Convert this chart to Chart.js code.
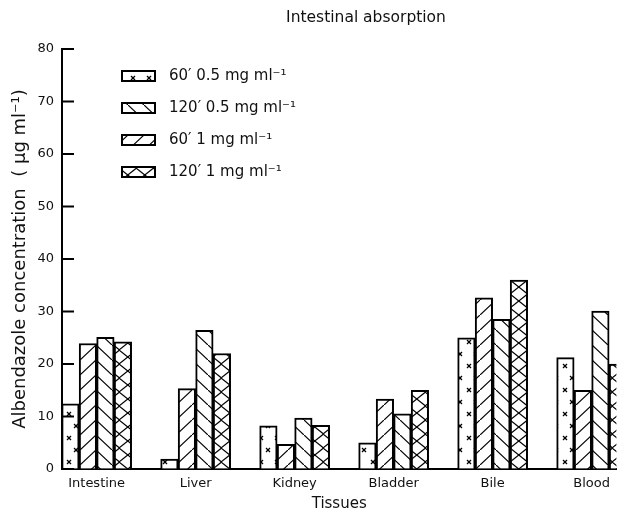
<!DOCTYPE html>
<html>
<head>
<meta charset="utf-8">
<script src="https://cdn.jsdelivr.net/npm/chart.js@4.4.1/dist/chart.umd.min.js"></script>
<style>
  html, body { margin: 0; padding: 0; background: #fff; overflow: hidden; }
</style>
</head>
<body>
<canvas id="chart" width="617" height="509"></canvas>
<script>
// values (µg ml-1)
const tissues = ['Intestine', 'Liver', 'Kidney', 'Bladder', 'Bile', 'Blood'];
const conc60Low = [12.4, 1.9, 8.2, 5.0, 25.0, 21.2];    // 60' 0.5 mg/ml
const conc60High = [23.9, 15.3, 4.7, 13.3, 32.6, 15.0];  // 60' 1 mg/ml
const conc120Low = [25.1, 26.4, 9.7, 10.5, 28.5, 30.1];  // 120' 0.5 mg/ml
const conc120High = [24.2, 22.0, 8.3, 15.0, 36.0, 20.0]; // 120' 1 mg/ml

const chartTitle = 'Intestinal absorption';
const FONT = '"DejaVu Sans", sans-serif';
const INK = '#111';

function hatch(kind) {
    const c = document.createElement('canvas');
    const g = c.getContext('2d');
    let W = 16, H = 15;
    if (kind === 'dots') { W = 16; H = 24; }
    if (kind === 'cross') { W = 17.5; H = 14; }
    c.width = W; c.height = H;
    g.fillStyle = '#fff';
    g.fillRect(0, 0, W, H);
    g.strokeStyle = '#000';
    g.lineWidth = 1.2;
    const seg = (x1, y1, x2, y2) => { g.beginPath(); g.moveTo(x1, y1); g.lineTo(x2, y2); g.stroke(); };
    if (kind === 'dots') {
        [[5, 6], [12, 18]].forEach(([x, y]) => {
            seg(x - 2, y - 2, x + 2, y + 2);
            seg(x - 2, y + 2, x + 2, y - 2);
        });
    }
    if (kind === 'fwd' || kind === 'cross') {
        seg(0, H, W, 0);
        seg(-W, 2 * H, 0, H);
        seg(W, 0, 2 * W, -H);
    }
    if (kind === 'back' || kind === 'cross') {
        seg(0, 0, W, H);
        seg(-W, -H, 0, 0);
        seg(W, H, 2 * W, 2 * H);
    }
    return g.createPattern(c, 'repeat');
}

const ctx = document.getElementById('chart').getContext('2d');

function series(label, values, kind) {
    return {
        label,
        data: values.map((v, i) => ({ x: i, y: v })),
        backgroundColor: hatch(kind),
        borderColor: '#000',
        borderWidth: 2,
        barThickness: 17.5
    };
}

// bars run dots, /, \, X inside each group; legend lists dots, \, /, X
const datasets = [
    series('60\u2032 0.5 mg ml\u207b\u00b9', conc60Low, 'dots'),
    series('60\u2032 1 mg ml\u207b\u00b9', conc60High, 'fwd'),
    series('120\u2032 0.5 mg ml\u207b\u00b9', conc120Low, 'back'),
    series('120\u2032 1 mg ml\u207b\u00b9', conc120High, 'cross')
];
const legendOrder = [0, 2, 1, 3];

const figureDecor = {
    id: 'figureDecor',
    afterDraw(chart) {
        const { ctx, chartArea } = chart;
        const y = chart.scales.y;
        ctx.save();
        // ticks point into the plot
        ctx.strokeStyle = '#000';
        ctx.lineWidth = 2;
        y.ticks.forEach((t, i) => {
            const py = y.getPixelForTick(i);
            ctx.beginPath();
            ctx.moveTo(chartArea.left, py);
            ctx.lineTo(chartArea.left + 12, py);
            ctx.stroke();
        });
        // title
        ctx.fillStyle = INK;
        ctx.font = '15.5px ' + FONT;
        ctx.textAlign = 'center';
        ctx.textBaseline = 'middle';
        ctx.fillText(chartTitle, chartArea.left + 304, 18);
        // legend inside the plot
        ctx.font = '15px ' + FONT;
        ctx.textAlign = 'left';
        legendOrder.forEach((di, row) => {
            const ds = chart.data.datasets[di];
            const bx = chartArea.left + 60;
            const by = chartArea.top + 22 + row * 32;
            ctx.fillStyle = ds.backgroundColor;
            ctx.fillRect(bx, by, 33, 10);
            ctx.lineWidth = 2;
            ctx.strokeRect(bx, by, 33, 10);
            ctx.fillStyle = INK;
            ctx.fillText(ds.label, bx + 47, by + 5);
        });
        ctx.restore();
    }
};

new Chart(ctx, {
    type: 'bar',
    data: { datasets },
    plugins: [figureDecor],
    options: {
        responsive: false,
        animation: false,
        layout: { padding: { top: 49, right: 0, bottom: 0, left: 0 } },
        plugins: {
            legend: { display: false },
            title: { display: false },
            tooltip: { enabled: false }
        },
        scales: {
            x: {
                type: 'linear',
                offset: false,
                min: -0.35,
                max: 5.25,
                grid: { offset: false, drawOnChartArea: false, drawTicks: false },
                border: { color: '#000', width: 2 },
                ticks: {
                    stepSize: 1,
                    autoSkip: false,
                    includeBounds: false,
                    maxRotation: 0,
                    padding: 7,
                    color: INK,
                    font: { family: FONT, size: 13 },
                    callback: v => tissues[v] ?? ''
                },
                title: {
                    display: true,
                    text: 'Tissues',
                    color: INK,
                    font: { family: FONT, size: 15, lineHeight: 0.7 },
                    padding: { top: 4, bottom: 0 }
                },
                afterFit: s => { s.height = 40; }
            },
            y: {
                min: 0,
                max: 80,
                grid: { drawOnChartArea: false, drawTicks: false },
                border: { color: '#000', width: 2 },
                ticks: {
                    stepSize: 10,
                    padding: 8,
                    color: INK,
                    font: { family: FONT, size: 13 }
                },
                title: {
                    display: true,
                    text: 'Albendazole concentration  ( \u03bcg ml\u207b\u00b9)',
                    color: INK,
                    font: { family: FONT, size: 18, lineHeight: 1 },
                    padding: { top: 11, bottom: 0 }
                },
                afterFit: s => { s.width = 62; }
            }
        }
    }
});
</script>
</body>
</html>
